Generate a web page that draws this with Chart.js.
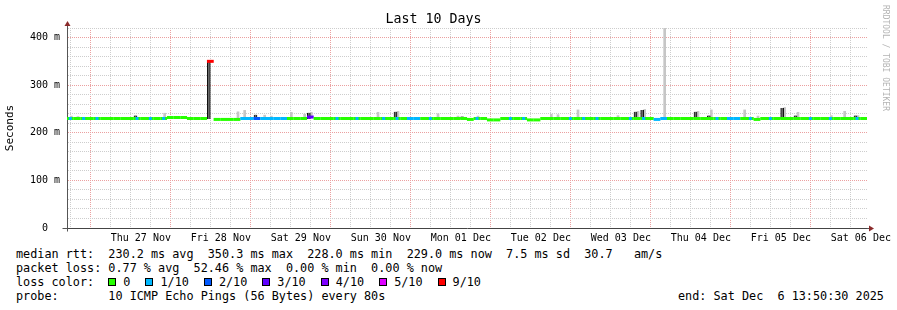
<!DOCTYPE html>
<html>
<head>
<meta charset="utf-8">
<script src="https://cdn.jsdelivr.net/npm/chart.js@4/dist/chart.umd.min.js"></script>
<style>
html, body { margin: 0; padding: 0; background: #fff; }
#wrap { position: relative; width: 897px; height: 310px; font-family: 'DejaVu Sans Mono', monospace; color: #000; }
#chart { position: absolute; left: 0; top: 0; }
.legend { position: absolute; left: 16px; top: 247px; font-size: 11.8px; line-height: 14px; white-space: pre; }
.end { position: absolute; left: 678px; top: 289px; font-size: 11.8px; line-height: 14px; white-space: pre; }
.it { margin-right: 15px; }
.sq { display: inline-block; width: 8px; height: 8px; border: 1px solid #000; box-sizing: border-box; margin-right: 7px; position: relative; top: 0px; }
.mark { position: absolute; left: 881px; top: 5px; writing-mode: vertical-rl; font-size: 8px; line-height: 8px; color: #b4b4b4; white-space: pre; }
</style>
</head>
<body>
<div id="wrap">
  <canvas id="chart" width="897" height="245"></canvas>
  <div class="legend">median rtt:  230.2 ms avg  350.3 ms max  228.0 ms min  229.0 ms now  7.5 ms sd  30.7   am/s
packet loss: 0.77 % avg  52.46 % max  0.00 % min  0.00 % now
loss color:  <span class="it"><i class="sq" style="background:#26ff00"></i>0</span><span class="it"><i class="sq" style="background:#00b8ff"></i>1/10</span><span class="it"><i class="sq" style="background:#0059ff"></i>2/10</span><span class="it"><i class="sq" style="background:#5e00ff"></i>3/10</span><span class="it"><i class="sq" style="background:#7e00ff"></i>4/10</span><span class="it"><i class="sq" style="background:#dd00ff"></i>5/10</span><span class="it"><i class="sq" style="background:#ff0000"></i>9/10</span>
probe:       10 ICMP Echo Pings (56 Bytes) every 80s</div>
  <div class="end">end: Sat Dec  6 13:50:30 2025</div>
  <div class="mark">RRDTOOL / TOBI OETIKER</div>
</div>
<script>
const c = document.getElementById('chart').getContext('2d');

// 10 days split in 2 hour bins, hours counted from Wed 26 Nov 13:50:30
const binHours = 2;
const firstMidnight = 10 + 9.5 / 60; // Thu 27 Nov 00:00

const dayLabels = [
    'Thu 27 Nov', 'Fri 28 Nov', 'Sat 29 Nov', 'Sun 30 Nov', 'Mon 01 Dec',
    'Tue 02 Dec', 'Wed 03 Dec', 'Thu 04 Dec', 'Fri 05 Dec', 'Sat 06 Dec'
];

// median rtt per bin (ms)
const median = [
    230, 230, 230, 230, 230, 230, 230, 230, 230, 230, 230, 230,
    230, 230, 230, 232, 232, 232, 230, 230, 230, 350, 228, 228,
    228, 228, 230, 230, 230, 230, 230, 230, 230, 230, 230, 230,
    233, 230, 230, 230, 230, 230, 230, 230, 230, 230, 230, 230,
    230, 230, 230, 230, 230, 230, 230, 230, 230, 230, 230, 230,
    228, 230, 230, 227, 227, 230, 230, 230, 230, 227, 227, 230,
    230, 230, 230, 230, 230, 230, 230, 230, 230, 230, 230, 230,
    230, 230, 230, 230, 228, 230, 230, 230, 230, 230, 230, 230,
    230, 230, 230, 230, 230, 230, 230, 228, 230, 230, 230, 230,
    230, 230, 230, 230, 230, 230, 230, 230, 230, 230, 230, 230
];

// lost pings out of 10 per bin
const loss = [
    1, 0, 1, 0, 1, 0, 0, 0, 0, 0, 1, 0,
    1, 0, 1, 0, 0, 0, 0, 0, 0, 9, 0, 0,
    0, 0, 1, 1, 2, 1, 1, 1, 1, 0, 0, 0,
    3, 0, 0, 0, 1, 0, 0, 1, 0, 0, 0, 1,
    0, 1, 0, 1, 1, 0, 1, 0, 0, 0, 0, 0,
    0, 1, 0, 0, 0, 0, 1, 0, 1, 0, 0, 0,
    0, 0, 0, 1, 0, 1, 0, 1, 0, 0, 0, 0,
    1, 0, 1, 0, 1, 1, 0, 0, 0, 0, 0, 0,
    0, 1, 0, 1, 1, 0, 1, 0, 0, 1, 0, 0,
    0, 0, 0, 1, 0, 0, 1, 0, 0, 0, 1, 0
];

// light smoke: bins where the slowest pings stick out above the median
const smokeBins = [0, 1, 14, 25, 26, 29, 30, 33, 35, 36, 46, 49, 55, 58, 61, 72, 73, 76, 82, 85, 86, 89, 94, 96, 101, 103, 107, 109, 114, 116, 118];
const smokeHi = [235, 234, 241, 244, 247, 237, 235, 243, 239, 243, 243, 245, 240, 235, 235, 239, 238, 248, 236, 245, 249, 425, 245, 248, 248, 235, 253, 243, 236, 245, 236];

// dark smoke
const darkBins = [10, 21, 28, 36, 49, 59, 85, 86, 94, 96, 107, 109, 118];
const darkLo = [229, 229, 229, 229, 229, 229, 229, 229, 229, 229, 229, 229, 229];
const darkHi = [236, 352, 238, 242, 244, 234, 244, 248, 244, 236, 252, 236, 236];

const lossColors = ['#26ff00', '#00b8ff', '#0059ff', '#5e00ff', '#7e00ff', '#dd00ff', '#dd00ff', '#dd00ff', '#dd00ff', '#ff0000', '#ff0000'];

const mid = i => i * binHours + binHours / 2;

// a single 1/10 bin between clean bins is only a short blip in the original
const blip = i => loss[i] === 1 && !loss[i - 1] && !loss[i + 1];
const blipBins = loss.map((v, i) => i).filter(blip);

const minorGrid = 'rgb(205,205,205)';
const majorGrid = 'rgb(235,160,160)';

const isMidnight = v => {
    const r = ((v - firstMidnight) % 24 + 24) % 24;
    return r < 1e-6 || r > 24 - 1e-6;
};

const arrows = {
    id: 'arrows',
    afterDraw(chart) {
        const ctx = chart.ctx;
        const a = chart.chartArea;
        const x0 = Math.round(a.left) + 0.5;
        const y0 = Math.round(a.bottom) + 0.5;
        ctx.save();
        ctx.strokeStyle = '#555';
        ctx.lineWidth = 1;
        ctx.beginPath();
        ctx.moveTo(x0, a.top);
        ctx.lineTo(x0, a.top - 3);
        ctx.moveTo(x0, y0);
        ctx.lineTo(x0, y0 + 3);
        ctx.moveTo(x0 - 5, y0);
        ctx.lineTo(x0, y0);
        ctx.moveTo(a.right, y0);
        ctx.lineTo(a.right + 2, y0);
        ctx.stroke();
        ctx.fillStyle = '#8b2b2b';
        ctx.beginPath();
        ctx.moveTo(x0, a.top - 7);
        ctx.lineTo(x0 - 3, a.top - 2);
        ctx.lineTo(x0 + 3, a.top - 2);
        ctx.closePath();
        ctx.fill();
        ctx.beginPath();
        ctx.moveTo(a.right + 7, y0);
        ctx.lineTo(a.right + 2, y0 - 3);
        ctx.lineTo(a.right + 2, y0 + 3);
        ctx.closePath();
        ctx.fill();
        ctx.restore();
    }
};

Chart.defaults.font.family = "'DejaVu Sans Mono', monospace";
Chart.defaults.color = '#000';

const data = {
    datasets: [
        {
            type: 'line',
            label: 'loss blips',
            data: blipBins.map(b => ({ x: mid(b), y: median[b] })),
            showLine: false,
            pointStyle: 'line',
            pointRadius: 1.5,
            pointHoverRadius: 1.5,
            pointBorderWidth: 3,
            pointBorderColor: lossColors[1],
            order: -1
        },
        {
            type: 'line',
            label: 'median rtt',
            data: median.map((v, i) => ({ x: mid(i), y: v })),
            showLine: false,
            pointStyle: 'line',
            pointRadius: 3.4,
            pointHoverRadius: 3.4,
            pointBorderWidth: 3,
            pointBorderColor: ctx => blip(ctx.dataIndex) ? lossColors[0] : (lossColors[loss[ctx.dataIndex]] || lossColors[0]),
            order: 0
        },
        {
            type: 'bar',
            label: 'dark smoke',
            data: darkBins.map((b, i) => ({ x: mid(b), y: [darkLo[i], darkHi[i]] })),
            backgroundColor: '#6a6a6a',
            borderColor: '#111',
            borderWidth: { left: 1, right: 1, top: 0, bottom: 0 },
            borderSkipped: false,
            barThickness: 3,
            order: 1
        },
        {
            type: 'bar',
            label: 'smoke',
            data: smokeBins.map((b, i) => ({ x: mid(b), y: [median[b], smokeHi[i]] })),
            backgroundColor: '#c6c6c6',
            barThickness: 2,
            order: 2
        }
    ]
};

const config = {
    type: 'bar',
    data: data,
    plugins: [arrows],
    options: {
        responsive: false,
        animation: false,
        events: [],
        layout: { padding: { left: 0, right: 30, top: 0, bottom: 0 } },
        plugins: {
            legend: { display: false },
            tooltip: { enabled: false },
            title: {
                display: true,
                text: 'Last 10 Days',
                font: { size: 13.3, weight: 'normal', lineHeight: '15px' },
                padding: { top: 12, bottom: 1 }
            }
        },
        scales: {
            x: {
                type: 'linear',
                min: 0,
                max: 240,
                offset: false,
                afterFit: s => { s.height = 17; },
                afterBuildTicks: s => {
                    const t = [];
                    for (let h = firstMidnight - 6; h <= 240; h += 6) t.push({ value: h });
                    s.ticks = t;
                },
                ticks: {
                    autoSkip: false,
                    maxRotation: 0,
                    padding: 4,
                    font: { size: 10 },
                    callback: v => {
                        const k = (v - firstMidnight - 12) / 24;
                        const r = Math.round(k);
                        return Math.abs(k - r) < 1e-6 && r >= 0 && r < dayLabels.length ? dayLabels[r] : '';
                    }
                },
                grid: {
                    drawTicks: false,
                    color: ctx => ctx.tick && isMidnight(ctx.tick.value) ? majorGrid : minorGrid
                },
                border: { display: true, color: '#444', width: 1, dash: [1, 1] }
            },
            y: {
                min: 0,
                max: 420,
                afterFit: s => { s.width = 67; },
                title: {
                    display: true,
                    text: 'Seconds',
                    font: { size: 11 },
                    padding: { top: 4, bottom: 0 }
                },
                ticks: {
                    stepSize: 20,
                    autoSkip: false,
                    padding: 7,
                    font: { size: 10 },
                    callback: v => v === 0 ? '0  ' : (v % 100 === 0 ? v + ' m' : '')
                },
                grid: {
                    drawTicks: false,
                    color: ctx => {
                        if (!ctx.tick) return minorGrid;
                        if (ctx.tick.value === 0) return 'rgba(0,0,0,0)';
                        return ctx.tick.value % 100 === 0 ? majorGrid : minorGrid;
                    }
                },
                border: { display: true, color: '#555', width: 1, dash: [1, 1] }
            }
        }
    }
};

const chart = new Chart(c, config);
</script>
</body>
</html>
